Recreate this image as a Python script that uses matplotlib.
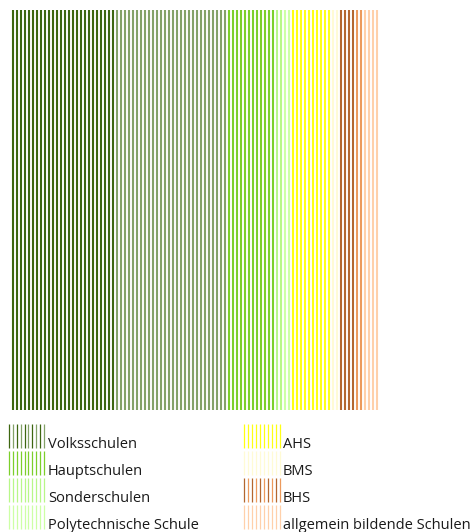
import numpy as np
import matplotlib.pyplot as plt

# one vertical line per unit, grouped by school type
categories = ["Volksschulen", "Hauptschulen", "Sonderschulen", "Polytechnische Schule",
              "AHS", "BMS", "BHS", "allgemein bildende Schulen"]
first_lines = [26, 12, 2, 2, 10, 2, 4, 4]
second_lines = [28, 0, 0, 0, 0, 0, 2, 0]
first_colors = ["#3d6610", "#7ccf2a", "#b8f788", "#cdffa5",
                "#ffff14", "#fffbd4", "#b3672f", "#ffd0aa"]
second_colors = ["#84a268", None, None, None, None, None, "#ec9a5c", None]

line_colors = []
for n1, n2, c1, c2 in zip(first_lines, second_lines, first_colors, second_colors):
    line_colors += [c1] * n1 + [c2] * n2

W, H = 470, 532
fig = plt.figure(figsize=(W / 100, H / 100), dpi=100)

ax = fig.add_axes([11 / W, 1 - 410 / H, 368 / W, 400 / H])
x = np.arange(len(line_colors))
ax.vlines(x, 0, 1, colors=line_colors, lw=1.5)
ax.set_xlim(-0.5, len(line_colors) - 0.5)
ax.set_ylim(0, 1)
ax.axis("off")

# legend: striped swatches with labels, two columns of four
lg = fig.add_axes([0, 0, 1, 1])
lg.set_xlim(0, W)
lg.set_ylim(H, 0)
lg.axis("off")

baselines = [448, 475, 502, 529]
for i, cat in enumerate(categories):
    col, row = divmod(i, 4)
    base = baselines[row]
    sx0, sx1, tx = (9, 44, 48) if col == 0 else (244, 280, 283)
    xs = np.linspace(sx0, sx1, 10)
    c1, c2 = first_colors[i], second_colors[i]
    cols = [c2 if (c2 and k % 2) else c1 for k in range(len(xs))]
    lg.vlines(xs, base - 24, base, colors=cols, lw=0.9)
    lg.text(tx, base, cat, va="baseline", ha="left", fontsize=10.5,
            family="Open Sans", color="#1a1a1a")

fig.savefig("out.png", dpi=100)
